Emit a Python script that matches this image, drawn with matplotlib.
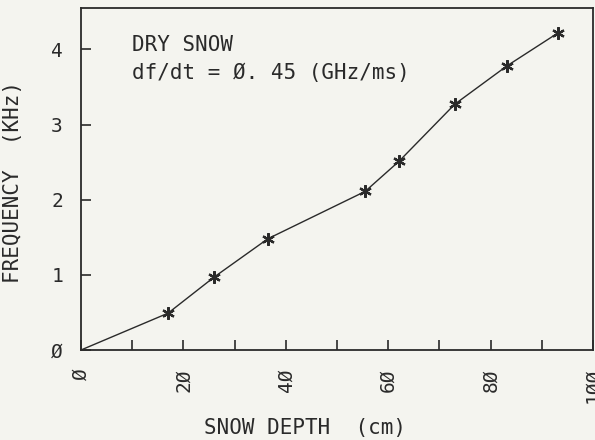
import matplotlib
matplotlib.use('Agg')
import matplotlib.pyplot as plt

# snow depth (cm) vs beat frequency (kHz)
depth = [0, 17.0, 26.0, 36.5, 55.5, 62.1, 73.0, 83.2, 93.2]
freq = [0, 0.49, 0.97, 1.48, 2.11, 2.51, 3.27, 3.78, 4.22]

xticks = [0, 20, 40, 60, 80, 100]
xtick_labels = ['Ø', '2Ø', '4Ø', '6Ø', '8Ø', '1ØØ']
yticks = [0, 1, 2, 3, 4]
ytick_labels = ['Ø', '1', '2', '3', '4']

plt.rcParams['font.family'] = ['DejaVu Sans Mono', 'DejaVu Sans']

bg = '#f4f4ef'
ink = '#2a2a2a'
W, H = 595, 440

fig = plt.figure(figsize=(5.95, 4.4), dpi=100, facecolor=bg)
ax = fig.add_axes([81/W, 1 - 350/H, 512/W, 342/H], facecolor=bg)

ax.plot(depth, freq, color=ink, lw=1.0)
ax.plot(depth[1:], freq[1:], ls='none', marker=(6, 2, 0), ms=9, mew=1.6, color=ink)

ax.set_xlim(0, 100)
ax.set_ylim(0, 4.55)
ax.set_xticks(xticks)
ax.set_xticklabels(xtick_labels, rotation=90)
ax.set_xticks(range(10, 100, 20), minor=True)
ax.set_yticks(yticks)
ax.set_yticklabels(ytick_labels)
ax.tick_params(which='both', direction='in', length=7, width=1.2, color=ink,
               labelsize=14, labelcolor=ink, pad=13)
for s in ax.spines.values():
    s.set_linewidth(1.3)
    s.set_color(ink)

ax.set_xlabel('SNOW DEPTH  (cm)', fontsize=15, color=ink)
ax.xaxis.set_label_coords((305 - 81) / 512, -(418 - 350) / 342)
ax.set_ylabel('FREQUENCY  (KHz)', fontsize=15, color=ink)
ax.yaxis.set_label_coords(-(81 - 23) / 512, (350 - 182) / 342)

# annotation, positions in pixels from the top-left
fig.text(132/W, 1 - 45/H, 'DRY SNOW', fontsize=15, color=ink, va='center')
fig.text(132/W, 1 - 73/H, 'df/dt = Ø. 45 (GHz/ms)', fontsize=15, color=ink,
         va='center')

fig.savefig('out.png', dpi=100, facecolor=bg)
